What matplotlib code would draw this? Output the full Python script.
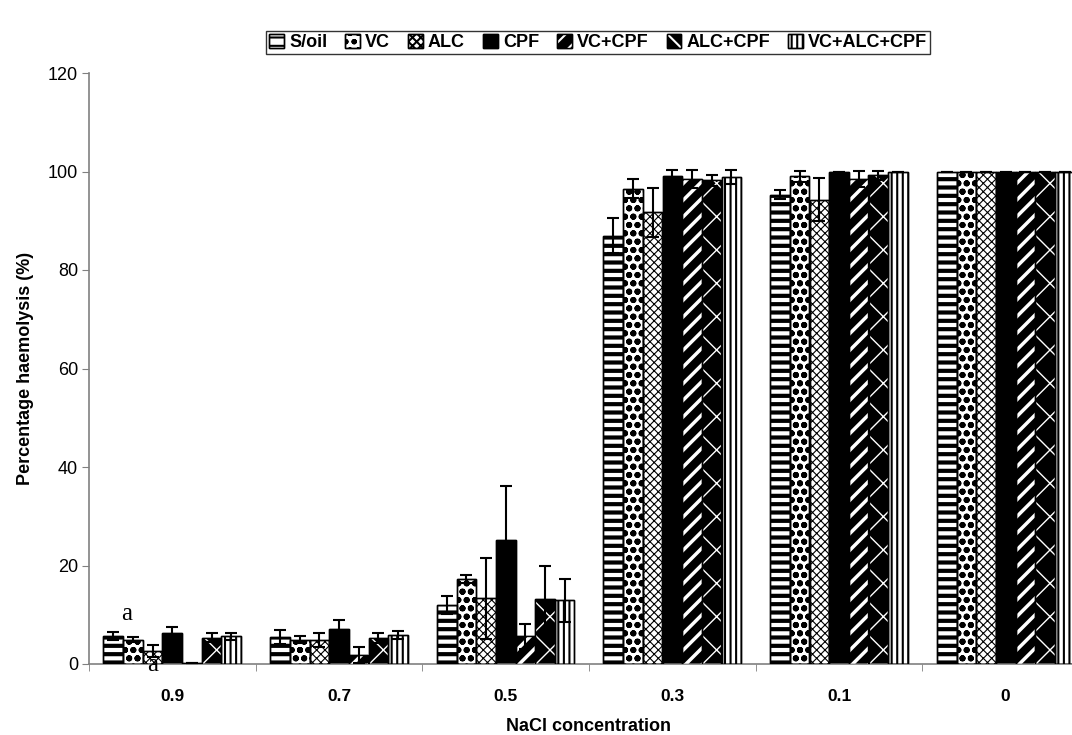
import numpy as np
import matplotlib
matplotlib.use("Agg")
import matplotlib.pyplot as plt
from matplotlib.patches import Patch
from matplotlib.legend_handler import HandlerTuple

plt.rcParams['font.family'] = ['Liberation Sans', 'DejaVu Sans']

# data
groups = ["0.9", "0.7", "0.5", "0.3", "0.1", "0"]
series = ["S/oil", "VC", "ALC", "CPF", "VC+CPF", "ALC+CPF", "VC+ALC+CPF"]

soil = [5.6, 5.5, 12.0, 87.0, 95.3, 100]
soil_err = [0.8, 1.4, 1.9, 3.5, 0.9, 0]
vc = [4.9, 4.9, 17.3, 96.5, 99.0, 100]
vc_err = [0.5, 0.7, 0.8, 1.9, 1.2, 0]
alc = [2.7, 4.9, 13.3, 91.7, 94.3, 100]
alc_err = [1.2, 1.4, 8.2, 5.0, 4.3, 0]
cpf = [6.2, 7.1, 25.1, 99.0, 100, 100]
cpf_err = [1.4, 1.8, 11.0, 1.3, 0, 0]
vc_cpf = [0.2, 1.8, 5.6, 98.5, 98.5, 100]
vc_cpf_err = [0, 1.6, 2.5, 1.8, 1.7, 0]
alc_cpf = [5.3, 5.2, 13.2, 98.2, 99.2, 100]
alc_cpf_err = [0.9, 1.0, 6.8, 1.1, 1.0, 0]
all3 = [5.6, 5.8, 12.9, 98.9, 100, 100]
all3_err = [0.7, 0.8, 4.4, 1.5, 0, 0]

values = [soil, vc, alc, cpf, vc_cpf, alc_cpf, all3]
errors = [soil_err, vc_err, alc_err, cpf_err, vc_cpf_err, alc_cpf_err, all3_err]

# (face, hatch, hatch colour, hatch width)
styles = [
    ("white", "--", "black", 3.0),
    ("white", "oo", "black", 2.0),
    ("white", "xxxx", "black", 0.8),
    ("black", None, None, 0),
    ("black", "//", "white", 2.5),
    ("black", "x", "white", 1.0),
    ("white", "|||", "black", 1.5),
]

fig = plt.figure(figsize=(10.72, 7.35), dpi=100)
ax = fig.add_axes([89 / 1072, 71 / 735, 1000 / 1072, 591 / 735])

X = np.arange(len(groups))
w = 0.118
handles = []
for i, (name, vals, err, st) in enumerate(zip(series, values, errors, styles)):
    face, hatch, hcol, hlw = st
    pos = X + (i - 3) * w
    ax.bar(pos, vals, w, color=face, edgecolor="black", linewidth=1.0, zorder=2)
    parts = [Patch(facecolor=face, edgecolor="black", linewidth=1.0)]
    if hatch:
        plt.rcParams['hatch.linewidth'] = hlw
        bars = ax.bar(pos, vals, w, color="none", edgecolor=hcol, linewidth=0,
                      hatch=hatch, zorder=3)
        for b in bars:
            if hasattr(b, "set_hatch_linewidth"):
                b.set_hatch_linewidth(hlw)
        hp = Patch(facecolor="none", edgecolor=hcol, linewidth=0, hatch=hatch)
        if hasattr(hp, "set_hatch_linewidth"):
            hp.set_hatch_linewidth(min(hlw, 1.0))
        parts.append(hp)
    ax.bar(pos, vals, w, color="none", edgecolor="black", linewidth=1.0, zorder=4)
    parts.append(Patch(facecolor="none", edgecolor="black", linewidth=1.0))
    ax.errorbar(pos, vals, yerr=err, fmt="none", ecolor="black", elinewidth=1.5,
                capsize=4, capthick=1.5, zorder=5)
    handles.append(tuple(parts))

# significance letters
ax.text(X[0] - 2.3 * w, soil[0] + 4.5, "a", family="Liberation Serif", fontsize=18,
        ha="center", va="center", zorder=6)
ax.text(X[0] - 1 * w, -0.3, "a", family="Liberation Serif", fontsize=18,
        ha="center", va="center", zorder=6)

ax.set_xlim(-0.5, len(groups) - 0.5)
ax.set_ylim(0, 120)
ax.set_yticks(np.arange(0, 121, 20))
ax.set_xticks(X)
ax.set_xticklabels(groups, fontweight="bold", fontsize=12.5)
ax.set_xticks(np.arange(-0.5, len(groups), 1), minor=True)
ax.tick_params(axis="x", which="major", length=0, pad=18)
ax.tick_params(axis="x", which="minor", length=5, color="#808080")
ax.tick_params(axis="y", labelsize=13, length=5, color="#808080", pad=3)

for s in ["top", "right"]:
    ax.spines[s].set_visible(False)
for s in ["left", "bottom"]:
    ax.spines[s].set_color("#808080")
    ax.spines[s].set_linewidth(1.2)

ax.set_xlabel("NaCl concentration", fontweight="bold", fontsize=13, labelpad=10)
ax.set_ylabel("Percentage haemolysis (%)", fontweight="bold", fontsize=13, labelpad=10)

leg = fig.legend(handles, series, loc="center", bbox_to_anchor=(0.558, 0.942),
                 ncol=7, handler_map={tuple: HandlerTuple(ndivide=1, pad=0)},
                 prop={"weight": "bold", "size": 13}, frameon=True, fancybox=False,
                 edgecolor="black", handlelength=0.8, handleheight=0.8,
                 handletextpad=0.3, columnspacing=1.0, borderpad=0.15,
                 borderaxespad=0)
leg.get_frame().set_linewidth(1.0)

fig.savefig("out.png", dpi=100)
